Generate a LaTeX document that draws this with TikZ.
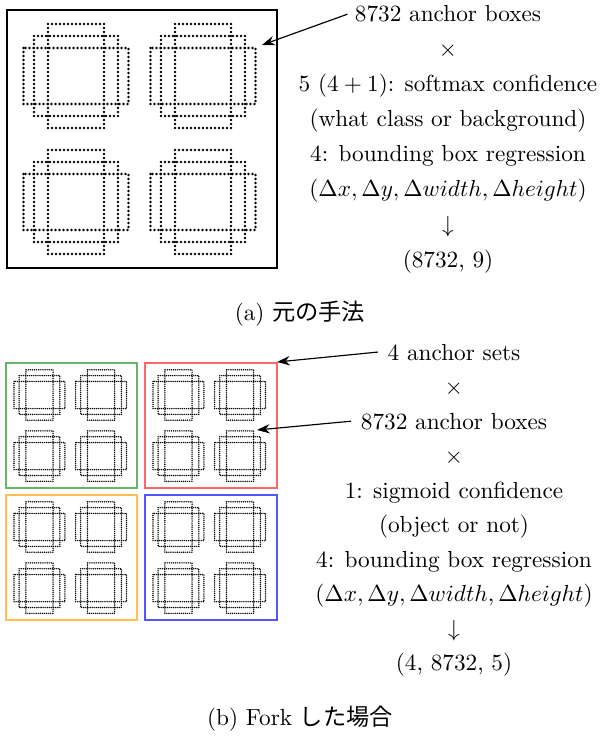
\documentclass[tikz,border=0pt]{standalone}
\usepackage{fontspec}
\newfontfamily\jp{Noto Sans CJK JP}
\usetikzlibrary{arrows.meta}
\definecolor{cgreen}{RGB}{102,180,102}
\definecolor{cred}{RGB}{255,102,102}
\definecolor{corange}{RGB}{255,192,80}
\definecolor{cblue}{RGB}{85,85,255}
\tikzset{
  bigdots/.style={line width=1.2pt, line cap=round, dash pattern=on 0pt off 1.72pt},
  smalldots/.style={line width=0.68pt, line cap=round, dash pattern=on 0pt off 0.9pt},
  frame/.style={draw=black, line width=1.1pt},
  cframe/.style={line width=0.8pt},
  txt/.style={inner sep=0pt, anchor=base},
  arr/.style={-{Stealth[length=5.5pt,width=4pt]}, line width=0.5pt},
}
\newcommand\anchorpanel[4]{%
  \begin{scope}[shift={(#1,#2)}, scale=#3]
    \foreach \cx/\cy in {69/66, 196/66, 69/192, 196/192}{
      \draw[#4] (\cx-28,\cy-52) rectangle (\cx+28,\cy+52);
      \draw[#4] (\cx-52.5,\cy-28) rectangle (\cx+52.5,\cy+28);
      \draw[#4] (\cx-42,\cy-40) rectangle (\cx+42,\cy+40);
    }
  \end{scope}}
\begin{document}
\begin{tikzpicture}[x=0.43pt, y=-0.43pt]
\useasboundingbox (0,0) rectangle (601,736);
% ---- (a) ----
\draw[frame] (7,10) rectangle (277,268);
\anchorpanel{7}{10}{1}{bigdots}
\coordinate (tipA) at (262,45);
\node[txt] (a1) at (448,22) {8732 anchor boxes};
\node[txt] (a2) at (448,57) {$\times$};
\node[txt] (a3) at (448,92) {5 $(4+1)$: softmax confidence};
\node[txt] (a4) at (448,127) {(what class or background)};
\node[txt] (a5) at (448,162) {4: bounding box regression};
\node[txt] (a6) at (448,197) {$(\Delta x, \Delta y, \Delta width, \Delta height)$};
\node[txt] (a7) at (448,232) {$\downarrow$};
\node[txt] (a8) at (448,267) {(8732, 9)};
\draw[arr] ([xshift=-3pt]a1.west) -- (tipA);
\node[txt] (capa) at (300,320) {(a) {\jp 元の手法}};
% ---- (b) ----
\draw[cframe, draw=cgreen]  (6,363) rectangle (137,488);
\draw[cframe, draw=cred]    (145,363) rectangle (277,488);
\draw[cframe, draw=corange] (6,495) rectangle (137,620);
\draw[cframe, draw=cblue]   (145,495) rectangle (277,620);
\anchorpanel{6}{363}{0.485}{smalldots}
\anchorpanel{145}{363}{0.485}{smalldots}
\anchorpanel{6}{495}{0.485}{smalldots}
\anchorpanel{145}{495}{0.485}{smalldots}
\coordinate (tipB) at (277,362);
\coordinate (tipC) at (257,430);
\node[txt] (b1) at (454,360) {4 anchor sets};
\node[txt] (b2) at (454,394.5) {$\times$};
\node[txt] (b3) at (454,429) {8732 anchor boxes};
\node[txt] (b4) at (454,463.5) {$\times$};
\node[txt] (b5) at (454,498) {1: sigmoid confidence};
\node[txt] (b6) at (454,532.5) {(object or not)};
\node[txt] (b7) at (454,567) {4: bounding box regression};
\node[txt] (b8) at (454,601.5) {$(\Delta x, \Delta y, \Delta width, \Delta height)$};
\node[txt] (b9) at (454,636) {$\downarrow$};
\node[txt] (b10) at (454,670.5) {(4, 8732, 5)};
\draw[arr] ([xshift=-4pt]b1.west) -- (tipB);
\draw[arr] ([xshift=-4pt]b3.west) -- (tipC);
\node[txt] (capb) at (300,725) {(b) Fork {\jp した場合}};
\end{tikzpicture}
\end{document}
